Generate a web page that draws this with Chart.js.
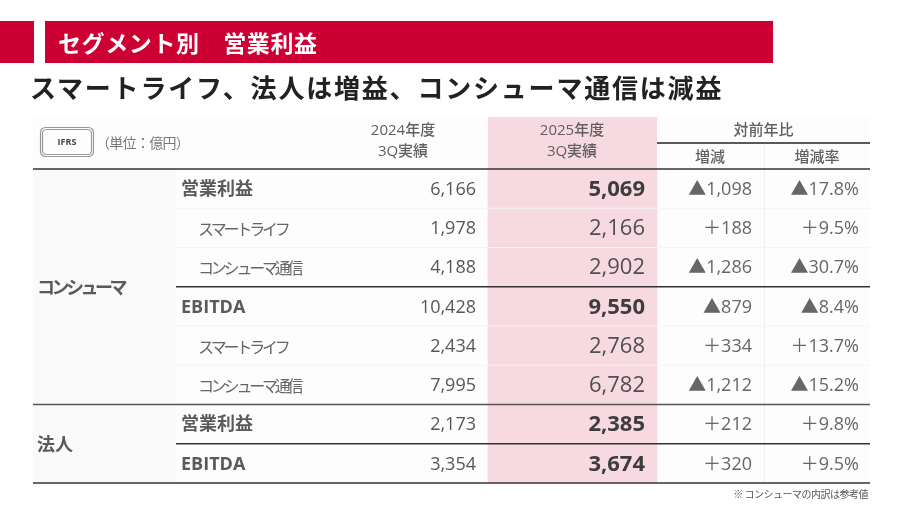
<!DOCTYPE html>
<html lang="ja">
<head>
<meta charset="utf-8">
<script src="https://cdn.jsdelivr.net/npm/chart.js@4"></script>
<style>
  html, body { margin:0; padding:0; background:#fff; }
  body { width:916px; height:506px; position:relative; overflow:hidden;
         font-family:"Noto Sans CJK JP", sans-serif; }
  #tbl { position:absolute; left:0; top:0; }
  .bar { position:absolute; top:21px; height:42px; background:#cc0033; }
  #barL { left:0; width:34px; }
  #barM { left:45px; width:728px; color:#fff; font-size:23px; font-weight:700;
          line-height:42px; padding-left:13px; box-sizing:border-box; letter-spacing:0.6px; }
  #sub { position:absolute; left:30px; top:68px; margin:0; font-size:26px; font-weight:700;
         color:#222; letter-spacing:1.8px; line-height:38px; }
</style>
</head>
<body>
<canvas id="tbl" width="916" height="506"></canvas>
<div class="bar" id="barL"></div>
<div class="bar" id="barM">セグメント別　営業利益</div>
<h2 id="sub">スマートライフ、法人は増益、コンシューマ通信は減益</h2>
<script>
// データ（単位：億円）
var rowLabels=["営業利益","スマートライフ","コンシューマ通信","EBITDA","スマートライフ","コンシューマ通信","営業利益","EBITDA"]
var rowIsSub=[false,true,true,false,true,true,false,false]
var fy2024=[6166,1978,4188,10428,2434,7995,2173,3354]
var fy2025=[5069,2166,2902,9550,2768,6782,2385,3674]
var diffs=[-1098,188,-1286,-879,334,-1212,212,320]
var rates=[-17.8,9.5,-30.7,-8.4,13.7,-15.2,9.8,9.5]
var groupNames=["コンシューマ","法人"]
var groupFirst=[0,6]
var groupLast=[5,7]
var colHeads=["2024年度\n3Q実績","2025年度\n3Q実績"]
var yoyHead="対前年比"
var yoySubHeads=["増減","増減率"]
var unitText="（単位：億円）"
var noteText="※ コンシューマの内訳は参考値"

var rowKeys=rowLabels.map(function(l,i){return i+":"+l})

var FONT='"Open Sans","Noto Sans CJK JP",sans-serif'
var JP='"Noto Sans CJK JP",sans-serif'
var pink='#f7d9e1'

// 横位置（表の左端からの距離）
var X={end:837,grpL:4,mainL:148,subL:165,inner:143,r24:443,hlA:455,hlB:624,r25:612,rDiff:719,rRate:826,c24:370,c25:539,cDiff:677,cRate:784,split:731}
var headH=52

function fmt(n){return Math.abs(n).toLocaleString('en-US')}
function fmtDiff(n){return (n<0?'▲':'＋')+fmt(n)}
function fmtRate(n){return (n<0?'▲':'＋')+Math.abs(n).toFixed(1)+'%'}

function txt(ctx,s,px,py,font,color,align,sp){
  ctx.font=font; ctx.fillStyle=color; ctx.textAlign=align||'left'
  ctx.textBaseline='middle'; ctx.letterSpacing=sp||'0px'
  ctx.fillText(s,px,py)
  ctx.letterSpacing='0px'
}
function hline(ctx,x1,x2,yy,color,w){
  ctx.beginPath(); ctx.strokeStyle=color; ctx.lineWidth=w
  ctx.moveTo(x1,yy); ctx.lineTo(x2,yy); ctx.stroke()
}

const tablePlugin={
  id:'segTable',
  beforeDatasetsDraw(chart){
    const {ctx,chartArea:a,scales:{x}}=chart
    const top=a.top-headH
    const px=v=>x.getPixelForValue(v)
    ctx.save()
    ctx.fillStyle='#fdfdfd'; ctx.fillRect(px(0),top,px(X.end)-px(0),a.bottom-top)
    ctx.fillStyle='#fafafa'; ctx.fillRect(px(0),a.top,px(X.inner)-px(0),a.bottom-a.top)
    ctx.fillStyle=pink; ctx.fillRect(px(X.hlA),top,px(X.hlB)-px(X.hlA),headH)
    ctx.restore()
  },
  afterDatasetsDraw(chart){
    const {ctx,chartArea:a,scales:{x,y}}=chart
    const px=v=>x.getPixelForValue(v)
    const top=a.top-headH
    const rowY=i=>y.getPixelForValue(i)
    const edge=i=>i<=0?a.top:(i>=rowLabels.length?a.bottom:(rowY(i-1)+rowY(i))/2)
    ctx.save()

    // ヘッダ
    ctx.beginPath(); ctx.strokeStyle='#999'; ctx.lineWidth=1.2
    ctx.roundRect(40.5,127.5,53,29,5); ctx.stroke()
    ctx.beginPath(); ctx.roundRect(42.5,129.5,49,25,4); ctx.stroke()
    txt(ctx,'IFRS',67,142.5,'700 9px '+FONT,'#444','center')
    txt(ctx,unitText,96,142.5,'14px '+JP,'#777','left','-0.7px')
    colHeads.forEach(function(h,k){
      const c=k==0?X.c24:X.c25
      h.split('\n').forEach(function(l,j){txt(ctx,l,px(c),top+14+j*21,'500 15px '+FONT,'#606060','center')})
    })
    txt(ctx,yoyHead,px((X.hlB+X.end)/2),top+12,'500 15px '+JP,'#606060','center')
    hline(ctx,px(X.hlB),px(X.end),top+26,'#222',1.3)
    txt(ctx,yoySubHeads[0],px(X.cDiff),top+39,'500 15px '+JP,'#606060','center')
    txt(ctx,yoySubHeads[1],px(X.cRate),top+39,'500 15px '+JP,'#606060','center')
    ctx.fillStyle='#f0f0f0'; ctx.fillRect(px(X.split),top+27,1,a.bottom-top-27)

    // 行
    rowLabels.forEach(function(l,i){
      const yy=rowY(i)+1
      const sub=rowIsSub[i]
      if(sub) txt(ctx,l,px(X.subL),yy,'16px '+JP,'#666','left','-3.2px')
      else txt(ctx,l,px(X.mainL),yy,'700 18px '+FONT,'#5a5a5a','left')
      txt(ctx,fy2024[i].toLocaleString('en-US'),px(X.r24),yy,'18px '+FONT,'#575757','right')
      txt(ctx,fy2025[i].toLocaleString('en-US'),px(X.r25),yy,(sub?'':'700 ')+'22px '+FONT,sub?'#505050':'#3d3d3d','right')
      txt(ctx,fmtDiff(diffs[i]),px(X.rDiff),yy,'18px '+FONT,'#666','right')
      txt(ctx,fmtRate(rates[i]),px(X.rRate),yy,'18px '+FONT,'#666','right')
    })

    // グループ
    groupNames.forEach(function(g,k){
      const yy=(edge(groupFirst[k])+edge(groupLast[k]+1))/2
      txt(ctx,g,px(X.grpL),yy,'700 18px '+JP,'#5a5a5a','left',g.length>2?'-3.5px':'0px')
    })

    // 罫線
    hline(ctx,px(0),px(X.end),a.top,'#333',1.5)
    for(let i=1;i<rowLabels.length;i++){
      if(groupFirst.indexOf(i)>=0) hline(ctx,px(0),px(X.end),edge(i),'#555',1.5)
      else if(!rowIsSub[i]) hline(ctx,px(X.inner),px(X.end),edge(i),'#333',1.3)
      else hline(ctx,px(X.inner),px(X.end),edge(i),'#f4f4f4',1)
    }
    hline(ctx,px(0),px(X.end),a.bottom,'#333',1.5)

    txt(ctx,noteText,px(X.end)-2,a.bottom+11,'10px '+JP,'#555','right','-0.5px')
    ctx.restore()
  }
}

var chart=new Chart(document.getElementById('tbl'),{
  type:'bar',
  data:{
    labels:rowKeys,
    datasets:[{
      label:'2025年度3Q実績',
      data:rowKeys.map(function(){return [X.hlA,X.hlB]}),
      backgroundColor:pink,
      borderWidth:0,
      barPercentage:1,
      categoryPercentage:1
    }]
  },
  options:{
    indexAxis:'y',
    responsive:false,
    animation:false,
    events:[],
    layout:{padding:{left:33,right:46,top:169,bottom:23}},
    plugins:{legend:{display:false},tooltip:{enabled:false},title:{display:false}},
    scales:{
      x:{type:'linear',min:0,max:X.end,display:false},
      y:{type:'category',display:false,offset:true}
    }
  },
  plugins:[tablePlugin]
})
</script>
</body>
</html>
